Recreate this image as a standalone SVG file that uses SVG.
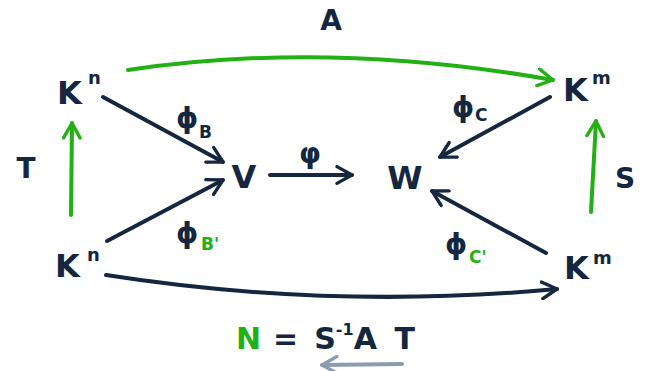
<svg xmlns="http://www.w3.org/2000/svg" width="652" height="371" viewBox="0 0 652 371">
<defs>
<style>
.t{font-family:"DejaVu Sans","Liberation Sans",sans-serif;fill:#15263f;font-weight:bold;}
.g{fill:#22b014;}
.big{font-size:32px;}
.sup{font-size:18px;}
.lbl{font-size:28px;}
.sub{font-size:17px;}
.d{fill:none;stroke:#15263f;stroke-width:4;stroke-linecap:round;}
.gr{fill:none;stroke:#22b014;stroke-width:4;stroke-linecap:round;}
.gy{fill:none;stroke:#8c9cb0;stroke-width:4;stroke-linecap:round;}
</style>
<marker id="ad" viewBox="0 0 12 12" refX="10" refY="6" markerWidth="5" markerHeight="5" orient="auto" markerUnits="strokeWidth"><path d="M1,1 L10,6 L1,11" fill="none" stroke="#15263f" stroke-width="2" stroke-linecap="round" stroke-linejoin="round"/></marker>
<marker id="ag" viewBox="0 0 12 12" refX="10" refY="6" markerWidth="5" markerHeight="5" orient="auto" markerUnits="strokeWidth"><path d="M1,1 L10,6 L1,11" fill="none" stroke="#22b014" stroke-width="2" stroke-linecap="round" stroke-linejoin="round"/></marker>
<marker id="ay" viewBox="0 0 12 12" refX="10" refY="6" markerWidth="5" markerHeight="5" orient="auto" markerUnits="strokeWidth"><path d="M1,1 L10,6 L1,11" fill="none" stroke="#8c9cb0" stroke-width="2" stroke-linecap="round" stroke-linejoin="round"/></marker>
</defs>
<rect width="652" height="371" fill="#ffffff"/>
<g id="connectors">
<path class="gr" d="M128,70 Q330,40 553,80" marker-end="url(#ag)"/>
<path class="d" d="M103,97 L223,162" marker-end="url(#ad)"/>
<path class="d" d="M107,241 L223,180" marker-end="url(#ad)"/>
<path class="d" d="M270,175 L352,175" marker-end="url(#ad)"/>
<path class="d" d="M550,97 L440,157" marker-end="url(#ad)"/>
<path class="d" d="M546,253 L432,191" marker-end="url(#ad)"/>
<path class="d" d="M106,275 Q330,310 557,289" marker-end="url(#ad)"/>
<path class="gr" d="M71,215 L72,123" marker-end="url(#ag)"/>
<path class="gr" d="M591,212 L596,121" marker-end="url(#ag)"/>
<path class="gy" d="M402,364 L322,365" marker-end="url(#ay)"/>
</g>
<g id="label-A"><text class="t lbl" x="331" y="30" text-anchor="middle">A</text></g>
<g id="label-T"><text class="t lbl" x="26" y="178" text-anchor="middle">T</text></g>
<g id="label-S"><text class="t lbl" x="625" y="188" text-anchor="middle">S</text></g>
<g id="node-Kn-top"><text class="t big" x="57" y="104">K</text><text class="t sup" x="88" y="84">n</text></g>
<g id="node-Km-top"><text class="t big" x="563" y="101">K</text><text class="t sup" x="592" y="84">m</text></g>
<g id="node-Kn-bot"><text class="t big" x="55" y="277">K</text><text class="t sup" x="87" y="261">n</text></g>
<g id="node-Km-bot"><text class="t big" x="564" y="279">K</text><text class="t sup" x="593" y="264">m</text></g>
<g id="node-V"><text class="t big" x="244" y="188" text-anchor="middle">V</text></g>
<g id="node-W"><text class="t big" x="405" y="189" text-anchor="middle">W</text></g>
<g id="label-phi"><text class="t lbl" x="310" y="163" text-anchor="middle">φ</text></g>
<g id="label-phiB"><text class="t lbl" x="176" y="128">ϕ</text><text class="t sub" x="199" y="138">B</text></g>
<g id="label-phiBp"><text class="t lbl" x="176" y="243">ϕ</text><text class="t sub g" x="201" y="250">B'</text></g>
<g id="label-phiC"><text class="t lbl" x="452" y="117">ϕ</text><text class="t sub" x="475" y="121">C</text></g>
<g id="label-phiCp"><text class="t lbl" x="445" y="254">ϕ</text><text class="t sub g" x="469" y="263">C'</text></g>
<g id="formula"><text class="t" font-size="30" x="236" y="349"><tspan class="g">N</tspan><tspan dx="12">=</tspan><tspan dx="16">S</tspan><tspan dy="-14" font-size="16">-1</tspan><tspan dy="14" dx="0">A</tspan><tspan dx="20">T</tspan></text></g>
</svg>
